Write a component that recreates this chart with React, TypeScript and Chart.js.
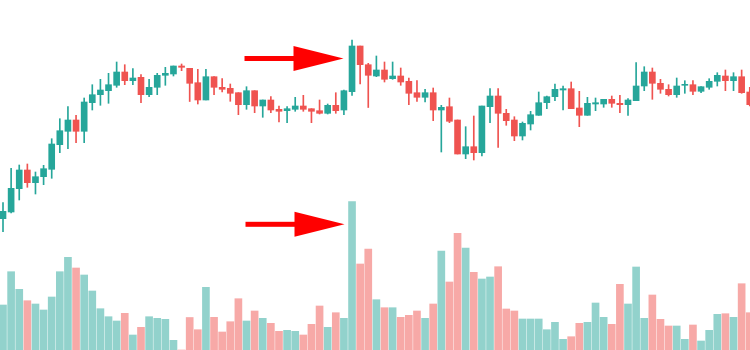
import React, { useEffect, useRef } from "react";
import { Chart, registerables } from "chart.js";

Chart.register(...registerables);

// OHLC prices (one entry per trading session)
const opens = [
  18.13, 18.8, 21.13, 23.0, 21.73, 22.33, 23.07, 25.53, 26.87, 28.0,
  26.87, 29.73, 30.53, 30.93, 31.47, 32.8, 31.93, 32.27, 30.53, 31.27,
  32.47, 32.6, 33.4, 33.17, 31.73, 30.0, 32.33, 31.27, 31.17, 30.73,
  29.53, 30.93, 29.4, 30.0, 29.07, 28.93, 29.07, 29.4, 29.13, 28.93,
  28.67, 29.47, 29.0, 30.83, 35.4, 33.53, 32.4, 33.0, 32.13, 32.4,
  31.87, 30.73, 30.27, 30.73, 29.0, 29.33, 28.0, 24.6, 25.33, 24.73,
  29.33, 30.4, 28.67, 28.0, 26.4, 27.6, 28.47, 29.73, 30.33, 31.0,
  31.13, 29.2, 28.47, 29.6, 29.6, 30.07, 29.67, 29.53, 29.93, 31.4,
  32.8, 31.67, 31.07, 30.53, 31.47, 31.53, 30.87, 31.27, 31.87, 32.4,
  31.93, 32.33, 30.8,
];
const highs = [
  19.73, 23.17, 23.5, 23.6, 22.8, 23.47, 26.13, 28.13, 29.33, 28.47,
  30.2, 31.53, 32.07, 32.67, 33.8, 33.53, 33.13, 32.53, 32.07, 32.67,
  33.27, 33.4, 33.6, 33.17, 33.07, 33.07, 32.33, 32.13, 31.6, 30.73,
  31.33, 30.93, 30.0, 30.33, 29.4, 29.33, 30.27, 30.47, 29.13, 30.0,
  29.6, 30.73, 31.0, 36.0, 35.4, 33.67, 34.4, 33.8, 33.8, 33.2,
  32.2, 31.93, 31.07, 31.2, 29.47, 30.2, 28.0, 27.33, 28.4, 29.4,
  31.13, 31.13, 29.07, 28.33, 27.8, 28.87, 30.8, 30.4, 31.6, 31.4,
  31.8, 30.87, 30.27, 30.2, 30.07, 30.4, 30.47, 30.13, 33.73, 33.33,
  33.2, 32.07, 31.53, 32.2, 31.93, 31.93, 31.33, 32.13, 32.73, 33.0,
  32.73, 33.0, 31.27,
];
const lows = [
  16.83, 18.7, 20.0, 21.27, 20.6, 21.53, 22.17, 24.73, 25.13, 25.73,
  25.73, 29.0, 29.47, 29.67, 31.27, 31.53, 31.53, 29.73, 30.33, 30.53,
  31.47, 32.4, 32.93, 29.85, 29.6, 30.0, 30.53, 30.8, 29.87, 28.53,
  29.07, 28.73, 28.27, 28.73, 27.8, 27.73, 28.87, 28.87, 27.73, 28.6,
  28.6, 28.67, 28.53, 30.47, 31.6, 29.25, 32.33, 31.8, 32.07, 31.47,
  29.53, 29.87, 29.8, 27.93, 24.8, 27.73, 24.6, 24.13, 24.0, 24.4,
  27.73, 25.27, 27.47, 25.93, 26.0, 27.0, 28.47, 29.13, 29.93, 29.0,
  29.13, 27.33, 28.47, 28.93, 29.27, 29.27, 28.73, 28.47, 29.93, 30.93,
  30.07, 30.67, 30.4, 30.27, 30.67, 30.53, 30.73, 31.07, 31.4, 30.93,
  30.93, 30.67, 29.4,
];
const closes = [
  18.87, 21.17, 23.0, 21.73, 22.33, 23.13, 25.6, 26.93, 28.0, 26.87,
  29.8, 30.53, 31.0, 31.53, 32.8, 31.93, 32.2, 30.53, 31.27, 32.47,
  32.67, 33.4, 33.27, 31.67, 30.0, 32.33, 31.27, 31.07, 30.67, 29.53,
  30.93, 29.4, 30.0, 29.0, 28.87, 29.13, 29.4, 29.07, 28.87, 28.67,
  29.47, 28.93, 30.93, 35.4, 33.53, 32.47, 33.0, 32.07, 32.4, 31.8,
  30.67, 30.27, 30.73, 29.0, 29.27, 27.87, 24.6, 25.33, 24.73, 29.4,
  30.4, 28.67, 27.93, 26.4, 27.67, 28.53, 29.73, 30.33, 31.07, 31.13,
  29.13, 28.47, 29.67, 29.73, 30.07, 29.67, 29.53, 30.0, 31.4, 32.8,
  31.67, 31.07, 30.53, 31.4, 31.53, 30.87, 31.33, 31.87, 32.47, 31.93,
  32.33, 30.73, 29.53,
];
// traded volume (thousands)
const volumes = [
  450, 783, 607, 493, 460, 400, 530, 783, 927, 820,
  750, 590, 413, 333, 290, 367, 150, 227, 333, 317,
  307, 97, 0, 325, 203, 627, 327, 180, 283, 513,
  290, 390, 317, 267, 187, 197, 187, 150, 257, 440,
  227, 373, 317, 1483, 860, 1010, 503, 423, 423, 327,
  347, 390, 317, 460, 990, 680, 1167, 1020, 777, 710,
  730, 833, 410, 390, 310, 310, 310, 203, 277, 107,
  133, 267, 277, 470, 327, 257, 657, 460, 830, 317,
  550, 307, 240, 240, 107, 250, 90, 197, 357, 363,
  327, 663, 373,
];

// annotation: arrows pointing at the breakout session
const ARROW_TARGET = 43;
const ARROW_PRICE = 34.15;
const ARROW_VOLUME = 1257;

const UP = "#26a69a";
const DOWN = "#ef5350";
const UP_VOL = "rgba(38,166,154,0.5)";
const DOWN_VOL = "rgba(239,83,80,0.5)";

function drawArrow(ctx: CanvasRenderingContext2D, tipX: number, y: number) {
  const headLen = 50;
  const headHalf = 12.5;
  const shaftLen = 49;
  const shaftHalf = 2.5;
  const baseX = tipX - headLen;
  ctx.save();
  ctx.fillStyle = "#ff0000";
  ctx.fillRect(baseX - shaftLen, y - shaftHalf, shaftLen + 2, shaftHalf * 2);
  ctx.beginPath();
  ctx.moveTo(baseX, y - headHalf);
  ctx.lineTo(tipX, y);
  ctx.lineTo(baseX, y + headHalf);
  ctx.closePath();
  ctx.fill();
  ctx.restore();
}

const arrowPlugin = {
  id: "arrows",
  afterDatasetsDraw(chart: any) {
    const { ctx, scales } = chart;
    const tipX = scales.x.getPixelForValue(ARROW_TARGET - 1.05);
    drawArrow(ctx, tipX, scales.y.getPixelForValue(ARROW_PRICE));
    drawArrow(ctx, tipX + 1, scales.v.getPixelForValue(ARROW_VOLUME));
  },
};

export default function App() {
  const ref = useRef<HTMLCanvasElement>(null);

  useEffect(() => {
    if (!ref.current) return;
    const n = closes.length;
    const idx = Array.from({ length: n }, (_, i) => i);
    const isUp = idx.map((i) => closes[i] >= opens[i]);

    const chart = new Chart(ref.current, {
      type: "bar",
      data: {
        datasets: [
          {
            label: "Volume",
            yAxisID: "v",
            data: idx.map((i) => ({ x: i, y: volumes[i] })),
            backgroundColor: idx.map((i) => (isUp[i] ? UP_VOL : DOWN_VOL)),
            barThickness: 7,
            grouped: false,
            order: 3,
          } as any,
          {
            label: "Wick",
            yAxisID: "y",
            data: idx.map((i) => ({ x: i, y: [lows[i], highs[i]] })),
            backgroundColor: idx.map((i) => (isUp[i] ? UP : DOWN)),
            barThickness: 1,
            grouped: false,
            order: 2,
          } as any,
          {
            label: "Body",
            yAxisID: "y",
            data: idx.map((i) => ({ x: i, y: [opens[i], closes[i]] })),
            backgroundColor: idx.map((i) => (isUp[i] ? UP : DOWN)),
            barThickness: 6,
            minBarLength: 1,
            grouped: false,
            order: 1,
          } as any,
        ],
      },
      options: {
        animation: false,
        responsive: false,
        devicePixelRatio: 1,
        layout: { padding: 0 },
        plugins: { legend: { display: false }, tooltip: { enabled: false } },
        scales: {
          x: {
            type: "linear",
            min: -0.37,
            max: 92.03,
            offset: false,
            display: false,
            grid: { display: false },
          },
          y: {
            type: "linear",
            min: 5,
            max: 40,
            display: false,
            grid: { display: false },
          },
          v: {
            type: "linear",
            min: 0,
            max: 3500,
            display: false,
            grid: { display: false },
          },
        },
      } as any,
      plugins: [arrowPlugin],
    });
    return () => chart.destroy();
  }, []);

  return (
    <div
      style={{
        position: "fixed",
        left: 0,
        top: 0,
        width: 750,
        height: 350,
        background: "#ffffff",
      }}
    >
      <canvas ref={ref} width={750} height={350} style={{ display: "block" }} />
    </div>
  );
}
